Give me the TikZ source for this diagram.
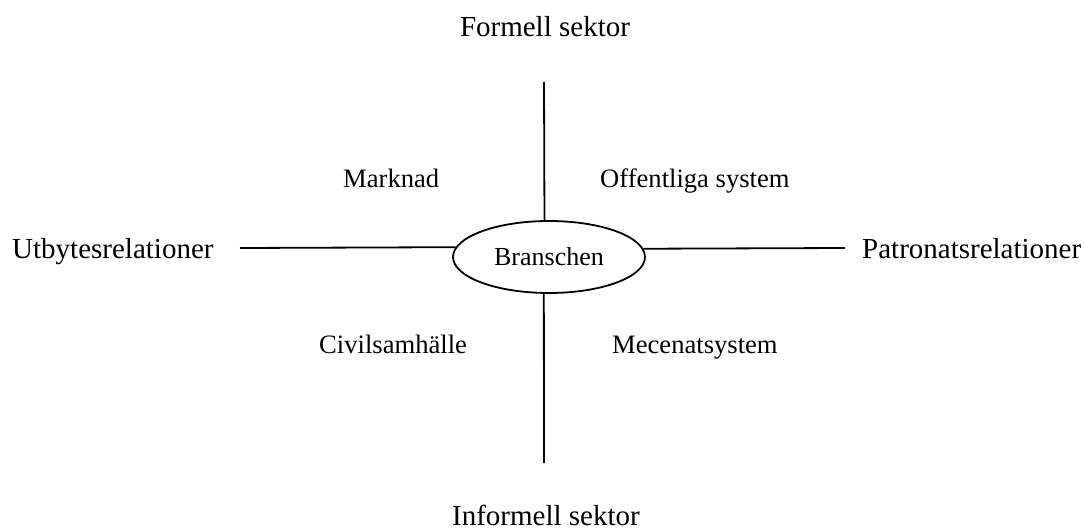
\documentclass[tikz,border=0pt]{standalone}
\usepackage{fontspec}
\setmainfont{Liberation Serif}
\usetikzlibrary{shapes.geometric}
\tikzset{
  axislabel/.style={inner sep=0pt, font=\fontsize{29}{34}\selectfont},
  quadlabel/.style={inner sep=0pt, anchor=base west, font=\fontsize{26.6}{31}\selectfont},
  axisline/.style={line width=1.8pt},
  centerbox/.style={ellipse, draw, line width=1.8pt, fill=white, inner sep=0pt,
    minimum width=192pt, minimum height=72pt, font=\fontsize{26}{30}\selectfont}
}
\begin{document}
\begin{tikzpicture}[x=1pt,y=-1pt]
\useasboundingbox (0,0) rectangle (1085,532);
% centre
\node[centerbox] (br) at (549,257) {Branschen};
% axis labels
\node[axislabel, anchor=base] (formell) at (545,37) {Formell sektor};
\node[axislabel, anchor=base] (informell) at (546,525) {Informell sektor};
\node[axislabel, anchor=base west] (utbyte) at (12,258) {Utbytesrelationer};
\node[axislabel, anchor=base west] (patronat) at (862,258) {Patronatsrelationer};
% quadrant labels
\node[quadlabel] (marknad) at (343,187) {Marknad};
\node[quadlabel] (offentliga) at (600,188) {Offentliga system};
\node[quadlabel] (civil) at (319,353) {Civilsamhälle};
\node[quadlabel] (mecenat) at (612,353) {Mecenatsystem};
% line ends
\coordinate (top) at (544,82);
\coordinate (bottom) at (544,463);
\coordinate (left) at (240,248);
\coordinate (right) at (845,248);
% axes
\draw[axisline] (top) -- (br.97.9);
\draw[axisline] (br.262.1) -- (bottom);
\draw[axisline] (left) -- (br.174.5);
\draw[axisline] (br.5.5) -- (right);
\end{tikzpicture}
\end{document}
